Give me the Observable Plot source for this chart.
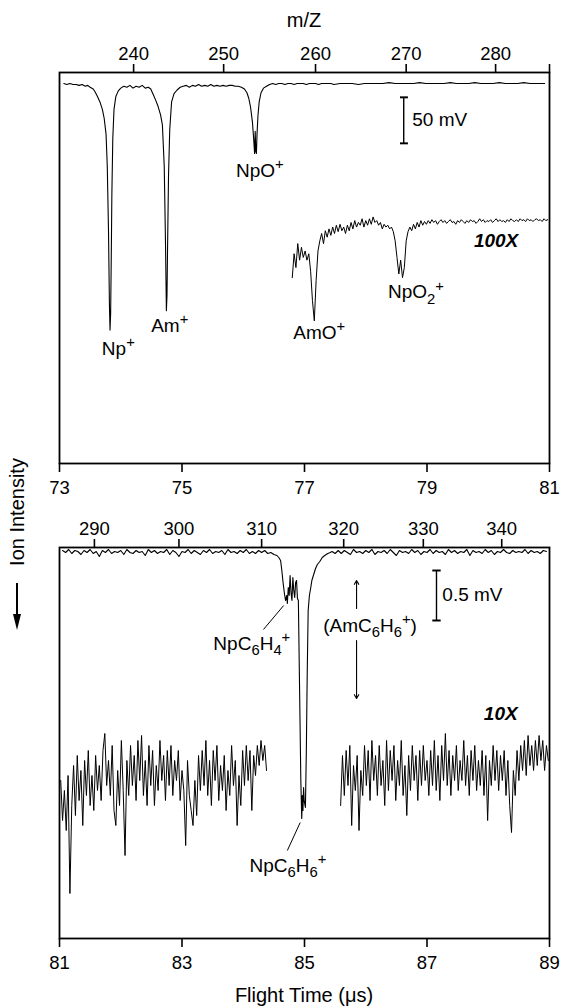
<!DOCTYPE html>
<html><head><meta charset="utf-8">
<script src="https://cdn.jsdelivr.net/npm/d3@7"></script>
<script src="https://cdn.jsdelivr.net/npm/@observablehq/plot@0.6"></script>
<style>
body{margin:0;background:#fff;font-family:"Liberation Sans",Arial,Helvetica,sans-serif;color:#000}
#wrap{position:relative;width:562px;height:1007px;overflow:hidden;background:#fff}
.abs{position:absolute}
.ttl{font-size:20px;text-align:center;white-space:nowrap;line-height:24px}
</style></head><body>
<div id="wrap">
  <div id="p1" class="abs" style="left:0;top:0"></div>
  <div id="p2" class="abs" style="left:0;top:505px"></div>
  <div class="abs ttl" style="left:59px;top:8px;width:490px">m/Z</div>
  <div class="abs ttl" style="left:59px;top:983px;width:490px">Flight Time (μs)</div>
  <div class="abs ttl" style="left:17px;top:512px;transform:translate(-50%,-50%) rotate(-90deg)">Ion Intensity</div>
  <div class="abs" style="left:16.3px;top:583px;width:1.5px;height:33px;background:#000"></div>
  <div class="abs" style="left:13px;top:614px;width:0;height:0;border-left:4px solid transparent;border-right:4px solid transparent;border-top:16px solid #000"></div>
</div>
<script>
// ---------- axis ticks ----------
const topTimeTicks = [73, 75, 77, 79, 81];
const topMz = [240, 250, 260, 270, 280, ""];
const topMzTime = [74.21, 75.68, 77.18, 78.66, 80.12, 81];
const botTimeTicks = [81, 83, 85, 87, 89];
const botMz = [290, 300, 310, 320, 330, 340];
const botMzTime = [81.57, 82.95, 84.30, 85.64, 86.94, 88.22];

// ---------- top panel: main trace (flight time µs, signal mV) ----------
const topMainTrace = [
[73.07,0],[73.12,-1],[73.17,0],[73.22,-1],[73.27,-1],[73.32,-2],[73.37,-1],[73.42,-3],[73.46,-2],
[73.50,-4],[73.55,-6],[73.58,-9],[73.62,-14],[73.66,-20],[73.70,-28],[73.73,-38],[73.76,-55],[73.78,-90],[73.80,-160],[73.815,-240],[73.825,-268],[73.835,-250],[73.845,-190],[73.855,-120],[73.87,-60],[73.89,-28],[73.92,-14],[73.96,-8],[74.00,-5],[74.05,-3],
[74.10,-4],[74.15,-2],[74.20,-5],[74.25,-3],[74.30,-4],[74.35,-2],[74.40,-5],[74.45,-4],
[74.49,-6],[74.53,-12],[74.57,-18],[74.61,-25],[74.65,-34],[74.68,-45],[74.71,-90],[74.73,-170],[74.745,-247],[74.755,-230],[74.765,-175],[74.78,-100],[74.80,-50],[74.83,-20],[74.87,-11],[74.92,-7],[74.97,-4],[75.02,-3],
[75.07,-2],[75.12,-4],[75.17,-2],[75.22,-3],[75.27,-1],[75.32,-3],[75.37,-2],[75.42,-3],[75.47,-1],[75.52,-3],[75.57,-2],[75.62,-3],[75.67,-2],[75.72,-3],[75.77,-2],[75.82,-2],[75.87,-3],[75.92,-3],[75.97,-4],
[76.02,-6],[76.06,-10],[76.09,-16],[76.12,-26],[76.15,-42],[76.17,-60],[76.185,-76],[76.195,-52],[76.205,-74],[76.215,-76],[76.225,-55],[76.24,-35],[76.26,-20],[76.29,-10],[76.33,-5],[76.38,-3],
[76.43,-1],[76.48,0],[76.53,-1],[76.58,0],[76.63,0],[76.68,-1],[76.73,0],[76.78,0],[76.83,-1],[76.88,0],[76.93,0],[76.98,0],[77.03,-1],[77.08,0],[77.13,0],[77.18,0],[77.23,-1],[77.28,0],[77.33,0],[77.38,0],[77.43,0],[77.48,-1],
[77.58,0],[77.68,0],[77.78,0],[77.88,-1],[77.98,0],[78.08,0],[78.18,0],[78.28,0],[78.38,1],[78.48,0],[78.58,0],[78.68,0],[78.78,0],[78.88,1],[78.98,0],[79.08,0],[79.18,0],[79.28,0],[79.38,1],[79.48,0],[79.58,0],[79.68,0],[79.78,1],[79.88,0],[79.98,0],[80.08,0],[80.18,1],[80.28,0],[80.38,0],[80.48,0],[80.58,1],[80.68,0],[80.78,0],[80.88,0],[80.92,0]
];

// ---------- top panel: 100X trace, sampled every 0.03 µs from 76.80 µs ----------
const top100Start = 76.80, top100Step = 0.03;
const top100Values = [
-211,-185,-200,-174,-192,-178,-189,-182,-192,-185,
-204,-236,-258,-214,-182,-171,-163,-174,-160,-167,
-158,-165,-156,-163,-154,-161,-153,-160,-156,-163,
-154,-160,-151,-158,-149,-156,-151,-154,-147,-156,
-149,-154,-147,-153,-145,-151,-149,-154,-151,-158,
-153,-156,-154,-158,-156,-161,-171,-189,-207,-192,
-211,-200,-171,-161,-156,-160,-153,-158,-151,-156,
-149,-154,
-150,-153,-149,-152,-148,-151,-149,-153,-150,-148,
-151,-149,-152,-150,-148,-151,-150,-153,-149,-151,
-148,-150,-152,-149,-151,-148,-150,-149,-152,-150,
-147,-150,-148,-151,-149,-150,-148,-151,-149,-147,
-150,-148,-150,-149,-151,-148,-150,-147,-149,-150,
-148,-150,-147,-149,-148,-150,-147,-149,-148,-150,
-148,-147,-149,-148,-150,-147,-149,-148
];

// ---------- bottom panel: main trace ----------
const botBaseLeftStart = 81.05, botBaseStep = 0.05;
const botBaseLeft = [
0.00,-0.02,0.01,-0.03,0.00,-0.01,-0.04,0.00,-0.02,0.01,
-0.03,-0.01,-0.06,0.00,-0.02,0.01,-0.03,-0.01,-0.02,0.00,
-0.04,0.01,-0.02,-0.03,0.00,-0.02,-0.01,-0.05,0.01,-0.02,
0.00,-0.03,-0.01,-0.02,0.01,-0.04,0.00,-0.02,-0.06,-0.01,
-0.02,0.01,-0.03,0.00,-0.02,-0.04,0.00,-0.02,0.01,-0.03,
-0.01,-0.02,0.00,-0.04,0.01,-0.02,-0.01,-0.03,0.00,-0.02,
0.01,-0.03,-0.01,-0.03,0.00,-0.02,0.00,-0.03
];
const botPeak = [
[84.45,-0.02],[84.50,-0.04],[84.55,-0.05],[84.58,-0.07],[84.61,-0.10],[84.63,-0.20],[84.65,-0.32],[84.67,-0.42],[84.69,-0.50],[84.71,-0.45],[84.72,-0.53],[84.735,-0.37],[84.75,-0.45],[84.765,-0.25],[84.78,-0.42],[84.795,-0.50],[84.81,-0.27],[84.825,-0.40],[84.84,-0.47],[84.855,-0.32],[84.87,-0.30],[84.885,-0.48],[84.90,-0.50],
[84.92,-1.40],[84.94,-2.30],[84.955,-2.68],[84.965,-2.45],[84.975,-2.60],[84.985,-2.37],[84.995,-2.50],[85.015,-2.57],[85.03,-2.00],[85.045,-1.20],[85.06,-0.60],[85.08,-0.45],[85.10,-0.38],[85.12,-0.30],[85.15,-0.24],[85.18,-0.18],[85.21,-0.14],[85.25,-0.11],[85.29,-0.07],[85.33,-0.05],[85.38,-0.03],[85.42,-0.02]
];
const botBaseRightStart = 85.45;
const botBaseRight = [
-0.01,-0.03,0.00,-0.03,0.00,-0.02,-0.04,0.01,-0.02,-0.01,
-0.03,0.00,-0.02,0.01,-0.04,-0.01,-0.02,0.00,-0.03,0.01,
-0.02,-0.05,0.00,-0.02,-0.01,-0.03,0.01,-0.02,0.00,-0.04,
-0.01,-0.02,0.01,-0.03,0.00,-0.02,-0.01,-0.04,0.01,-0.02,
0.00,-0.03,-0.01,-0.02,0.01,-0.05,0.00,-0.02,-0.01,-0.03,
0.01,-0.02,0.00,-0.04,-0.01,-0.02,0.01,-0.02,-0.03,0.00,
-0.02,-0.01,-0.02,0.01,-0.03,0.00,-0.02,-0.01,-0.03,0.00,
-0.01
];

// ---------- bottom panel: 10X traces, sampled every 0.03 µs ----------
const tenStep = 0.03;
const tenLeftStart = 81.02;
const tenLeft = [
-2.30,-2.70,-2.40,-2.80,-2.25,-3.43,-2.55,-2.15,-2.65,-2.05,
-2.50,-2.20,-2.75,-2.10,-2.45,-2.00,-2.55,-2.25,-2.60,-2.05,
-2.40,-2.15,-2.50,-2.00,-1.83,-2.35,-2.10,-2.45,-1.95,-2.60,
-2.75,-2.20,-2.55,-1.90,-2.40,-3.05,-2.10,-2.45,-1.95,-2.35,
-2.05,-2.50,-1.90,-2.30,-1.85,-2.45,-2.10,-2.55,-1.95,-2.35,
-2.00,-2.55,-2.15,-2.40,-1.90,-2.30,-2.05,-2.50,-2.00,-2.35,
-1.95,-2.45,-2.10,-2.30,-2.00,-2.50,-2.20,-2.40,-2.95,-2.10,
-2.45,-2.60,-2.75,-2.30,-2.65,-2.05,-2.40,-2.00,-2.35,-1.90,
-2.45,-2.10,-2.55,-2.00,-2.30,-1.95,-2.50,-2.15,-2.40,-2.05,
-2.60,-2.20,-2.45,-1.95,-2.35,-2.10,-2.75,-2.25,-2.55,-2.00,
-2.35,-1.95,-2.30,-2.00,-2.60,-2.05,-2.25,-1.95,-2.15,-1.90,
-2.10,-1.95,-2.20
];
const tenRightStart = 85.59;
const tenRight = [
-2.55,-2.05,-2.45,-2.00,-2.35,-1.95,-2.75,-2.15,-2.40,-2.05,
-2.80,-2.20,-2.45,-1.95,-2.35,-2.00,-2.50,-1.90,-2.30,-2.05,
-2.45,-1.95,-2.35,-2.10,-2.55,-1.90,-2.40,-2.00,-2.30,-1.95,
-2.50,-2.10,-2.35,-1.90,-2.45,-2.15,-2.65,-2.05,-2.40,-1.95,
-2.30,-2.05,-2.50,-2.00,-2.35,-1.95,-2.30,-2.10,-2.45,-2.00,
-2.35,-1.90,-2.40,-2.05,-2.50,-1.95,-2.30,-1.83,-2.35,-2.00,
-2.45,-2.05,-2.30,-1.95,-2.40,-2.10,-2.30,-1.90,-2.35,-2.05,
-2.45,-2.00,-2.30,-1.95,-2.40,-2.10,-2.35,-2.00,-2.45,-2.05,
-2.70,-2.10,-2.35,-1.95,-2.30,-2.00,-2.40,-2.05,-2.30,-2.00,
-2.45,-2.10,-2.55,-2.82,-2.20,-2.45,-2.00,-2.30,-1.95,-2.20,
-1.90,-2.25,-1.85,-2.15,-1.95,-2.20,-1.90,-2.15,-1.85,-2.10,
-1.90,-2.20,-1.95,-2.10
];

// ---------- annotations (data coordinates) ----------
const topLabels = [
  {t: 73.96, v: -288, s: "Np^+"},
  {t: 74.80, v: -263, s: "Am^+"},
  {t: 76.27, v: -95, s: "NpO^+"},
  {t: 77.24, v: -271, s: "AmO^+"},
  {t: 78.82, v: -227, s: "NpO_2^+"}
];
const topBar = [{t: 78.62, v1: -15, v2: -65}];
const topBarLabel = [{t: 78.76, v: -40, s: "50 mV"}];
const topGain = [{t: 80.49, v: -171, s: "100X"}];

const botLabels = [
  {t: 84.14, v: -0.93, s: "NpC_6H_4^+"},
  {t: 84.73, v: -3.15, s: "NpC_6H_6^+"},
  {t: 86.07, v: -0.75, s: "(AmC_6H_6^+)"}
];
const botLeaders = [
  {t1: 84.33, v1: -0.79, t2: 84.66, v2: -0.55},
  {t1: 84.72, v1: -3.00, t2: 84.93, v2: -2.72}
];
const botArrows = [
  {t1: 85.85, v1: -0.58, t2: 85.85, v2: -0.30},
  {t1: 85.85, v1: -0.90, t2: 85.85, v2: -1.48}
];
const botBar = [{t: 87.155, v1: -0.20, v2: -0.70}];
const botBarLabel = [{t: 87.25, v: -0.44, s: "0.5 mV"}];
const botGain = [{t: 88.48, v: -1.63, s: "10X"}];

// ---------- build tables ----------
const sampled = (start, step, vals) => vals.map((v, i) => ({t: start + i * step, v}));
const pairs = arr => arr.map(([t, v]) => ({t, v}));
const topMain = pairs(topMainTrace);
const top100 = sampled(top100Start, top100Step, top100Values);
const botMain = [
  ...sampled(botBaseLeftStart, botBaseStep, botBaseLeft),
  ...pairs(botPeak),
  ...sampled(botBaseRightStart, botBaseStep, botBaseRight)
];
const tenL = sampled(tenLeftStart, tenStep, tenLeft);
const tenR = sampled(tenRightStart, tenStep, tenRight);

const FONT = '"Liberation Sans", Arial, Helvetica, sans-serif';
const LABEL_SIZE = 19;
const topMzMap = new Map(topMzTime.map((t, i) => [t, String(topMz[i])]));
const botMzMap = new Map(botMzTime.map((t, i) => [t, String(botMz[i])]));

const common = {
  width: 562, marginLeft: 59, marginRight: 13,
  style: {fontFamily: FONT, fontSize: "18.5px", background: "transparent", overflow: "visible", color: "#000"}
};

const p1 = Plot.plot({
  ...common, height: 510, marginTop: 72, marginBottom: 47,
  x: {domain: [73, 81]},
  y: {domain: [-413, 12], axis: null},
  marks: [
    Plot.frame({strokeWidth: 1.8}),
    Plot.axisX({anchor: "bottom", ticks: topTimeTicks, tickSize: 9, tickPadding: 8, strokeWidth: 1.6, label: null}),
    Plot.axisX({anchor: "top", ticks: topMzTime, tickFormat: t => topMzMap.get(t), tickSize: 9, tickPadding: 4, strokeWidth: 1.6, label: null}),
    Plot.line(topMain, {x: "t", y: "v", stroke: "#000", strokeWidth: 1.1}),
    Plot.line(top100, {x: "t", y: "v", stroke: "#000", strokeWidth: 1}),
    Plot.link(topBar, {x1: "t", x2: "t", y1: "v1", y2: "v2", stroke: "#000", strokeWidth: 1.4, markerStart: "tick", markerEnd: "tick"}),
    Plot.text(topBarLabel, {x: "t", y: "v", text: "s", textAnchor: "start", fontSize: LABEL_SIZE}),
    Plot.text(topLabels, {x: "t", y: "v", text: "s", fontSize: LABEL_SIZE}),
    Plot.text(topGain, {x: "t", y: "v", text: "s", textAnchor: "end", fontSize: LABEL_SIZE, fontWeight: "bold", fontStyle: "italic"})
  ]
});

const p2 = Plot.plot({
  ...common, height: 502, marginTop: 42, marginBottom: 69,
  x: {domain: [81, 89]},
  y: {domain: [-3.88, 0.03], axis: null},
  marks: [
    Plot.frame({strokeWidth: 1.8}),
    Plot.axisX({anchor: "bottom", ticks: botTimeTicks, tickSize: 9, tickPadding: 8, strokeWidth: 1.6, label: null}),
    Plot.axisX({anchor: "top", ticks: botMzTime, tickFormat: t => botMzMap.get(t), tickSize: 9, tickPadding: 4, strokeWidth: 1.6, label: null}),
    Plot.line(botMain, {x: "t", y: "v", stroke: "#000", strokeWidth: 1.1}),
    Plot.line(tenL, {x: "t", y: "v", stroke: "#000", strokeWidth: 1}),
    Plot.line(tenR, {x: "t", y: "v", stroke: "#000", strokeWidth: 1}),
    Plot.link(botLeaders, {x1: "t1", y1: "v1", x2: "t2", y2: "v2", stroke: "#000", strokeWidth: 1}),
    Plot.arrow(botArrows, {x1: "t1", y1: "v1", x2: "t2", y2: "v2", stroke: "#000", strokeWidth: 1.1, headLength: 6}),
    Plot.link(botBar, {x1: "t", x2: "t", y1: "v1", y2: "v2", stroke: "#000", strokeWidth: 1.4, markerStart: "tick", markerEnd: "tick"}),
    Plot.text(botBarLabel, {x: "t", y: "v", text: "s", textAnchor: "start", fontSize: LABEL_SIZE}),
    Plot.text(botLabels, {x: "t", y: "v", text: "s", fontSize: LABEL_SIZE}),
    Plot.text(botGain, {x: "t", y: "v", text: "s", textAnchor: "end", fontSize: LABEL_SIZE, fontWeight: "bold", fontStyle: "italic"})
  ]
});

// turn _x / ^x markers into real sub/superscript tspans
function richText(svg, fs) {
  const NS = "http://www.w3.org/2000/svg";
  svg.querySelectorAll("text").forEach(el => {
    const s = el.textContent;
    if (!/[_^]/.test(s)) return;
    el.textContent = "";
    let cur = 0;
    for (let i = 0; i < s.length; i++) {
      let ch = s[i], shift = 0, small = false;
      if ((ch === "_" || ch === "^") && i + 1 < s.length) {
        shift = ch === "_" ? fs * 0.3 : -fs * 0.4;
        small = true;
        ch = s[++i];
      }
      const ts = document.createElementNS(NS, "tspan");
      ts.textContent = ch;
      if (shift !== cur) ts.setAttribute("dy", (shift - cur).toFixed(2));
      cur = shift;
      if (small) ts.setAttribute("font-size", (fs * 0.78).toFixed(1));
      el.appendChild(ts);
    }
  });
}
richText(p1, LABEL_SIZE);
richText(p2, LABEL_SIZE);
document.getElementById("p1").appendChild(p1);
document.getElementById("p2").appendChild(p2);
</script>
</body></html>
